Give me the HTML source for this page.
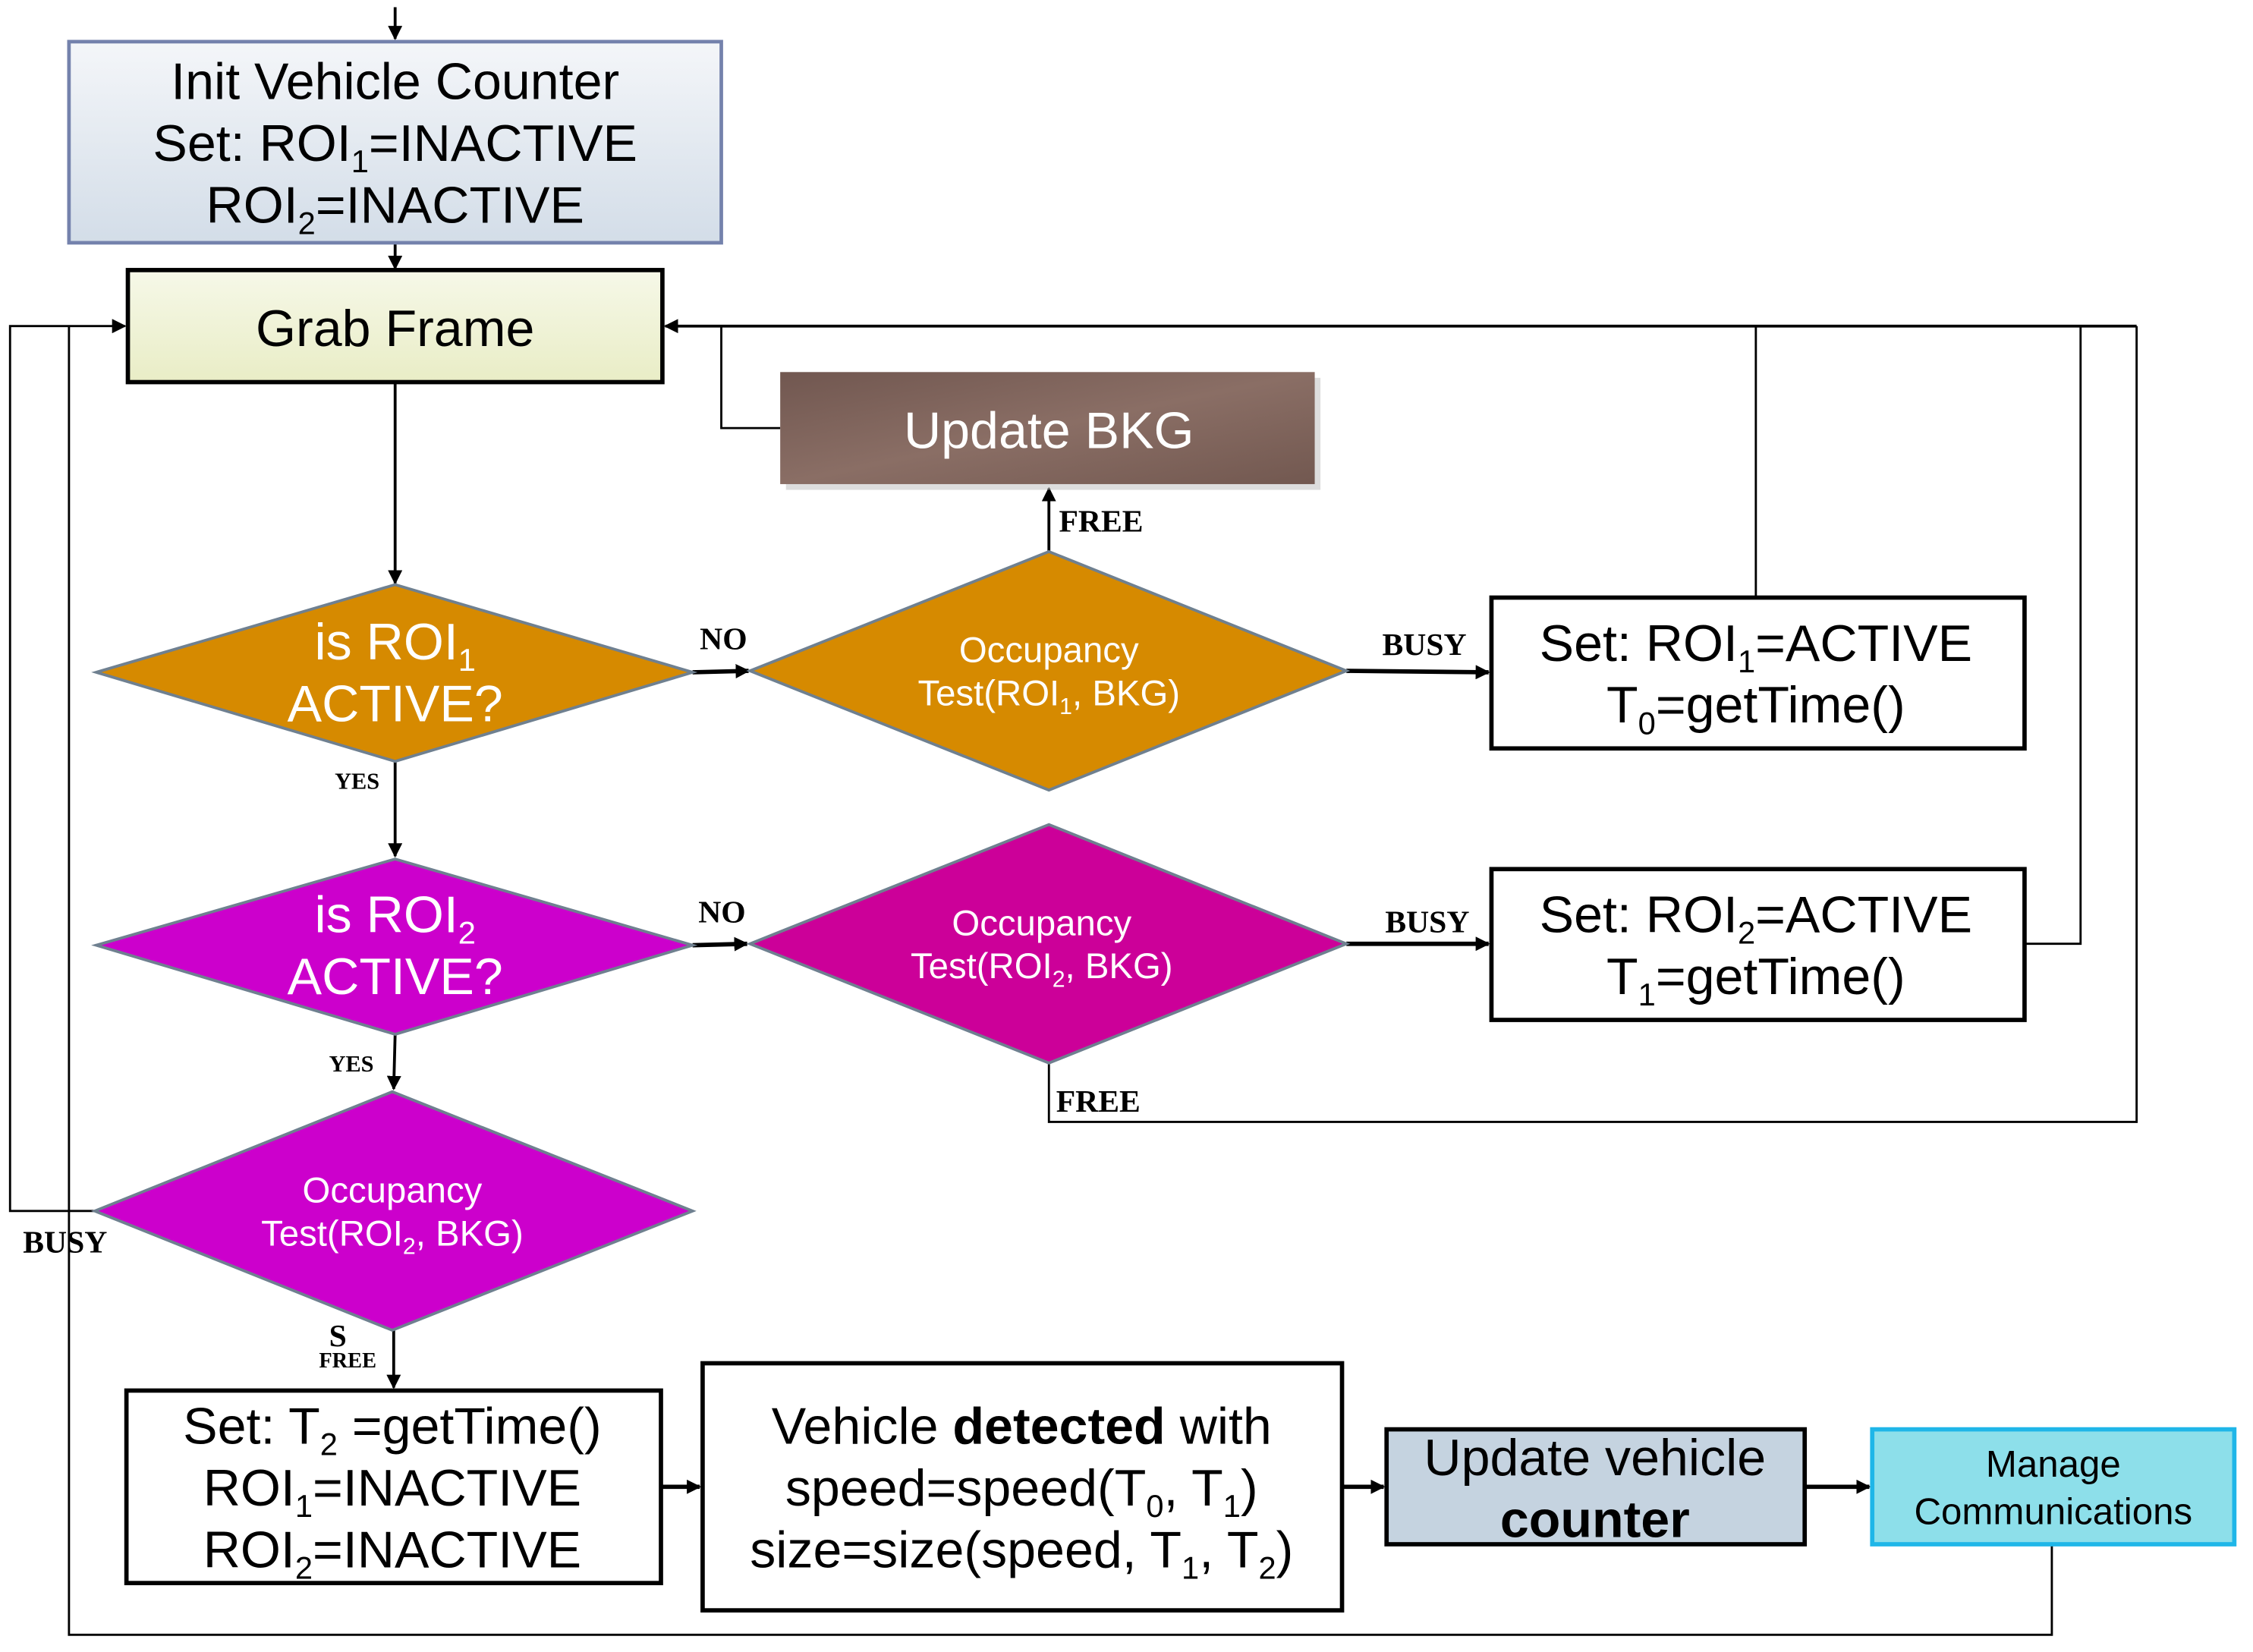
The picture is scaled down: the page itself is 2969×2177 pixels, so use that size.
<!DOCTYPE html>
<html><head><meta charset="utf-8"><style>
html,body{margin:0;padding:0;background:#fff;}
svg{display:block;}
.t{font-family:"Liberation Sans",Arial,sans-serif;text-anchor:middle;}
.l{font-family:"Liberation Serif",serif;font-weight:bold;}
</style></head><body>
<svg width="2969" height="2177" viewBox="0 0 1568 1150" preserveAspectRatio="none" xmlns="http://www.w3.org/2000/svg">
<defs>
<marker id="a" markerWidth="10" markerHeight="10" refX="9" refY="5" orient="auto" markerUnits="userSpaceOnUse"><path d="M0,0 L10,5 L0,10 z" fill="#000"/></marker>
<linearGradient id="gi" x1="0" y1="0" x2="0" y2="1"><stop offset="0" stop-color="#f4f6f9"/><stop offset="1" stop-color="#d3dde8"/></linearGradient>
<linearGradient id="gg" x1="0" y1="0" x2="0" y2="1"><stop offset="0" stop-color="#f6f8e8"/><stop offset="1" stop-color="#e9edc6"/></linearGradient>
<linearGradient id="gb" x1="0" y1="0" x2="1" y2="1"><stop offset="0" stop-color="#715750"/><stop offset="0.5" stop-color="#8a6e65"/><stop offset="1" stop-color="#725850"/></linearGradient>
</defs>
<g fill="none" stroke="#000" stroke-width="2">
<line x1="275" y1="5" x2="275" y2="27" marker-end="url(#a)"/>
<line x1="275" y1="169" x2="275" y2="187" marker-end="url(#a)"/>
<line x1="275" y1="266" x2="275" y2="406" marker-end="url(#a)"/>
<polyline points="1487,227 463,227" marker-end="url(#a)"/>
<polyline points="543,298 502,298 502,227" stroke-width="1.5"/>
<line x1="730" y1="384" x2="730" y2="340" marker-end="url(#a)"/>
<line x1="482" y1="468" x2="521" y2="467" stroke-width="3" marker-end="url(#a)"/>
<line x1="937" y1="467" x2="1036" y2="468" stroke-width="3" marker-end="url(#a)"/>
<line x1="1222" y1="416" x2="1222" y2="227" stroke-width="1.5"/>
<line x1="275" y1="530" x2="275" y2="596" marker-end="url(#a)"/>
<line x1="482" y1="658" x2="520" y2="657" stroke-width="3" marker-end="url(#a)"/>
<line x1="937" y1="657" x2="1036" y2="657" stroke-width="3" marker-end="url(#a)"/>
<polyline points="1409,657 1448,657 1448,227" stroke-width="1.5"/>
<polyline points="730,740 730,781 1487,781 1487,227" stroke-width="1.5"/>
<line x1="275" y1="720" x2="274" y2="758" marker-end="url(#a)"/>
<polyline points="66,843 7,843 7,227 87,227" stroke-width="1.5" marker-end="url(#a)"/>
<polyline points="48,227 48,1138 1428,1138 1428,1076" stroke-width="1.5"/>
<line x1="274" y1="926" x2="274" y2="966" marker-end="url(#a)"/>
<line x1="460" y1="1035" x2="487" y2="1035" stroke-width="3" marker-end="url(#a)"/>
<line x1="934" y1="1035" x2="963" y2="1035" stroke-width="3" marker-end="url(#a)"/>
<line x1="1256" y1="1035" x2="1301" y2="1035" stroke-width="3" marker-end="url(#a)"/>
</g>
<rect x="48" y="29" width="454" height="140" fill="url(#gi)" stroke="#7482ac" stroke-width="2.5"/>
<rect x="89" y="188" width="372" height="78" fill="url(#gg)" stroke="#000" stroke-width="3"/>
<rect x="547" y="263" width="372" height="78" fill="#bbb" opacity="0.5"/>
<rect x="543" y="259" width="372" height="78" fill="url(#gb)"/>
<polygon points="67,468 275,407 482,468 275,530" fill="#d68a00" stroke="#6f8090" stroke-width="2"/>
<polygon points="522,467 730,384 937,467 730,550" fill="#d68a00" stroke="#6f8090" stroke-width="2"/>
<polygon points="67,658 275,598 482,658 275,720" fill="#cc00cc" stroke="#6f8090" stroke-width="2"/>
<polygon points="522,657 730,574 937,657 730,740" fill="#cc0099" stroke="#6f8090" stroke-width="2"/>
<polygon points="66,843 273,760 482,843 273,926" fill="#cc00cc" stroke="#6f8090" stroke-width="2"/>
<rect x="1038" y="416" width="371" height="105" fill="#fff" stroke="#000" stroke-width="3"/>
<rect x="1038" y="605" width="371" height="105" fill="#fff" stroke="#000" stroke-width="3"/>
<rect x="88" y="968" width="372" height="134" fill="#fff" stroke="#000" stroke-width="3"/>
<rect x="489" y="949" width="445" height="172" fill="#fff" stroke="#000" stroke-width="3"/>
<rect x="965" y="995" width="291" height="80" fill="#c5d3e0" stroke="#000" stroke-width="3"/>
<rect x="1303" y="995" width="252" height="80" fill="#8ddfea" stroke="#1fb6e8" stroke-width="3"/>
<g class="t" font-size="36" fill="#000">
<text x="275" y="69">Init Vehicle Counter</text>
<text x="275" y="112">Set: ROI<tspan font-size="22" dy="8">1</tspan><tspan dy="-8">=INACTIVE</tspan></text>
<text x="275" y="155">ROI<tspan font-size="22" dy="8">2</tspan><tspan dy="-8">=INACTIVE</tspan></text>
<text x="275" y="241">Grab Frame</text>
<text x="730" y="312" fill="#fff">Update BKG</text>
<text x="1222" y="460">Set: ROI<tspan font-size="22" dy="8">1</tspan><tspan dy="-8">=ACTIVE</tspan></text>
<text x="1222" y="503">T<tspan font-size="22" dy="8">0</tspan><tspan dy="-8">=getTime()</tspan></text>
<text x="1222" y="649">Set: ROI<tspan font-size="22" dy="8">2</tspan><tspan dy="-8">=ACTIVE</tspan></text>
<text x="1222" y="692">T<tspan font-size="22" dy="8">1</tspan><tspan dy="-8">=getTime()</tspan></text>
<text x="273" y="1005">Set: T<tspan font-size="22" dy="8">2</tspan><tspan dy="-8"> =getTime()</tspan></text>
<text x="273" y="1048">ROI<tspan font-size="22" dy="8">1</tspan><tspan dy="-8">=INACTIVE</tspan></text>
<text x="273" y="1091">ROI<tspan font-size="22" dy="8">2</tspan><tspan dy="-8">=INACTIVE</tspan></text>
<text x="711" y="1005">Vehicle <tspan font-weight="bold">detected</tspan> with</text>
<text x="711" y="1048">speed=speed(T<tspan font-size="22" dy="8">0</tspan><tspan dy="-8">, T</tspan><tspan font-size="22" dy="8">1</tspan><tspan dy="-8">)</tspan></text>
<text x="711" y="1091">size=size(speed, T<tspan font-size="22" dy="8">1</tspan><tspan dy="-8">, T</tspan><tspan font-size="22" dy="8">2</tspan><tspan dy="-8">)</tspan></text>
<text x="1110" y="1027">Update vehicle</text>
<text x="1110" y="1070" font-weight="bold">counter</text>
</g>
<g class="t" font-size="36" fill="#fff">
<text x="275" y="459">is ROI<tspan font-size="22" dy="8">1</tspan></text>
<text x="275" y="502">ACTIVE?</text>
<text x="275" y="649">is ROI<tspan font-size="22" dy="8">2</tspan></text>
<text x="275" y="692">ACTIVE?</text>
</g>
<g class="t" font-size="25" fill="#fff">
<text x="730" y="461">Occupancy</text>
<text x="730" y="491">Test(ROI<tspan font-size="16" dy="6">1</tspan><tspan dy="-6">, BKG)</tspan></text>
<text x="725" y="651">Occupancy</text>
<text x="725" y="681">Test(ROI<tspan font-size="16" dy="6">2</tspan><tspan dy="-6">, BKG)</tspan></text>
<text x="273" y="837">Occupancy</text>
<text x="273" y="867">Test(ROI<tspan font-size="16" dy="6">2</tspan><tspan dy="-6">, BKG)</tspan></text>
</g>
<g class="t" font-size="26" fill="#000">
<text x="1429" y="1028">Manage</text>
<text x="1429" y="1061">Communications</text>
</g>
<g class="l" fill="#000" font-size="22">
<text x="487" y="452">NO</text>
<text x="486" y="642">NO</text>
<text x="737" y="370">FREE</text>
<text x="962" y="456">BUSY</text>
<text x="964" y="649">BUSY</text>
<text x="735" y="774">FREE</text>
<text x="16" y="872">BUSY</text>
<text x="229" y="937">S</text>
<text x="233" y="549" font-size="16">YES</text>
<text x="229" y="746" font-size="16">YES</text>
<text x="222" y="952" font-size="15">FREE</text>
</g>
</svg>
</body></html>
